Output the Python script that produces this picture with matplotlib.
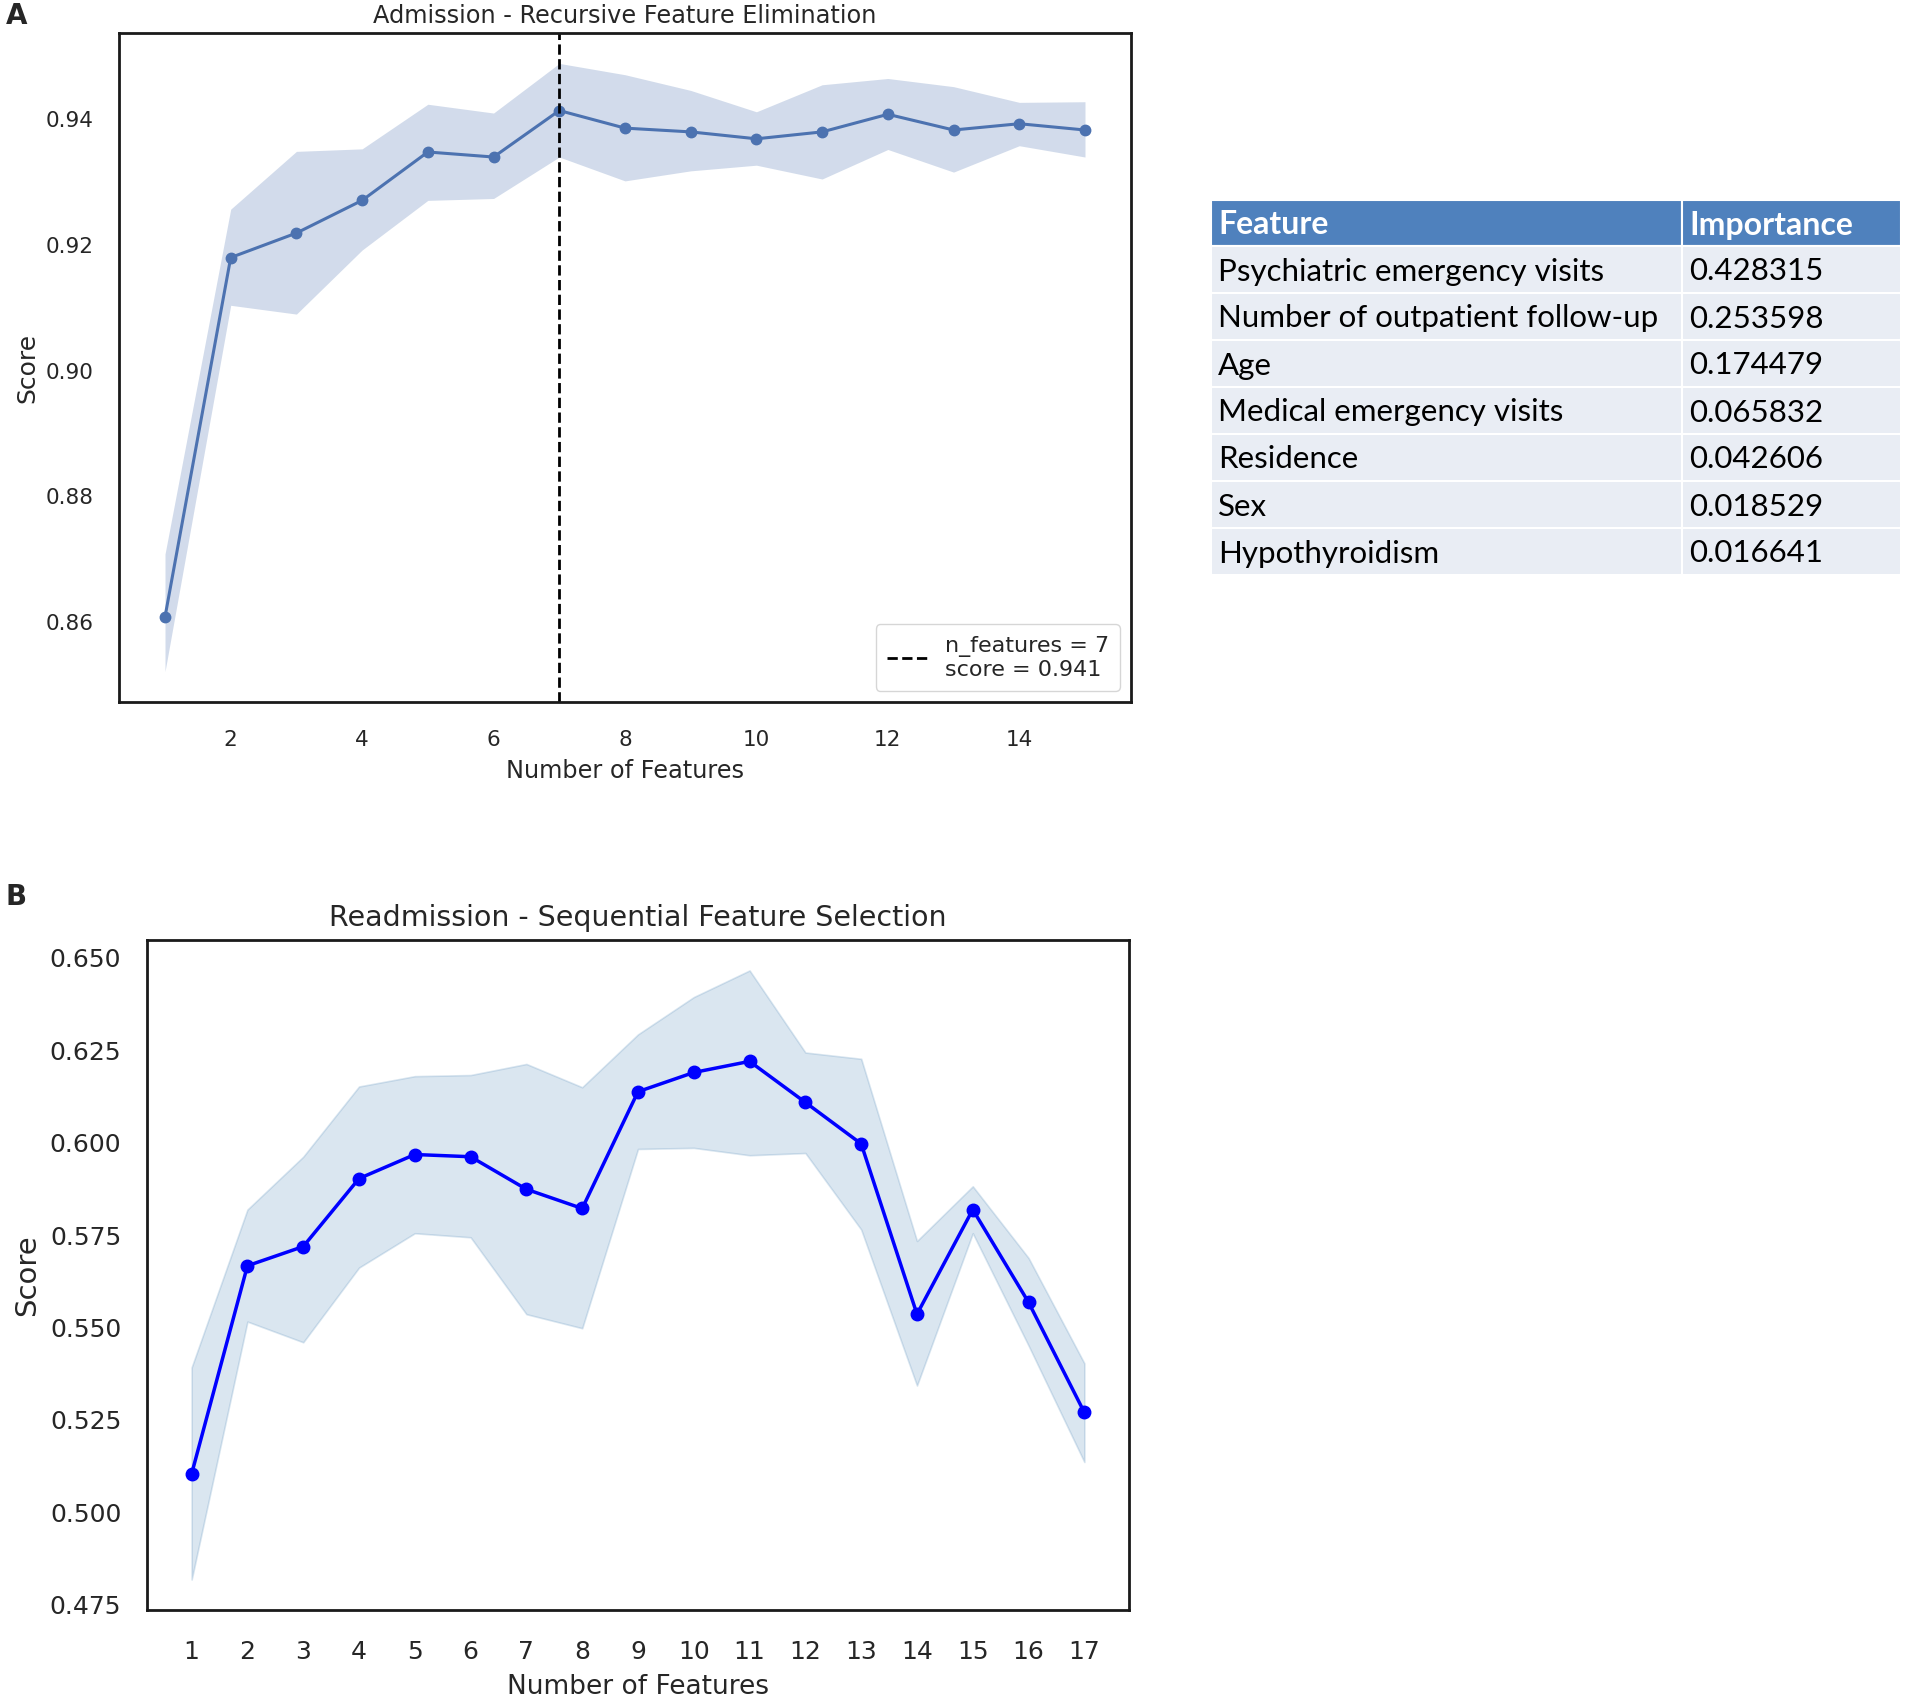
import numpy as np
import matplotlib
matplotlib.use('Agg')
import matplotlib.pyplot as plt
import seaborn as sns
from matplotlib.patches import Rectangle

# panel A - recursive feature elimination (admission)
rfe_n = [1, 2, 3, 4, 5, 6, 7, 8, 9, 10, 11, 12, 13, 14, 15]
rfe_score = [0.8608, 0.9180, 0.9219, 0.9271, 0.9348, 0.9340, 0.9414, 0.9386,
             0.9380, 0.9369, 0.9380, 0.9408, 0.9383, 0.9393, 0.9383]
rfe_upper = [0.8708, 0.9257, 0.9349, 0.9353, 0.9424, 0.9410, 0.9489, 0.9471,
             0.9446, 0.9412, 0.9455, 0.9465, 0.9452, 0.9427, 0.9428]
rfe_lower = [0.8521, 0.9104, 0.9090, 0.9192, 0.9271, 0.9274, 0.9340, 0.9302,
             0.9318, 0.9327, 0.9305, 0.9352, 0.9316, 0.9358, 0.9340]
best_n = 7
best_score = 0.941

# panel B - sequential feature selection (readmission)
sfs_n = list(range(1, 18))
sfs_score = [0.5104, 0.5667, 0.5719, 0.5903, 0.5968, 0.5962, 0.5874, 0.5822, 0.6138,
             0.6190, 0.6220, 0.6109, 0.5997, 0.5536, 0.5819, 0.5568, 0.5270]
sfs_upper = [0.5392, 0.5819, 0.5962, 0.6152, 0.6180, 0.6183, 0.6213, 0.6150, 0.6293,
             0.6394, 0.6466, 0.6244, 0.6227, 0.5734, 0.5882, 0.5688, 0.5403]
sfs_lower = [0.4818, 0.5516, 0.5460, 0.5662, 0.5755, 0.5744, 0.5536, 0.5498, 0.5983,
             0.5986, 0.5966, 0.5972, 0.5765, 0.5343, 0.5755, 0.5451, 0.5136]

# importance table
features = ['Psychiatric emergency visits', 'Number of outpatient follow-up', 'Age',
            'Medical emergency visits', 'Residence', 'Sex', 'Hypothyroidism']
importance = ['0.428315', '0.253598', '0.174479', '0.065832', '0.042606', '0.018529', '0.016641']

sns.set_style('white')
plt.rcParams['font.family'] = ['DejaVu Sans']

W, H = 1905, 1697
fig = plt.figure(figsize=(W / 100, H / 100), dpi=100)


def px_axes(left, top, right, bottom):
    return fig.add_axes([left / W, 1 - bottom / H, (right - left) / W, (bottom - top) / H])


def style_spines(ax):
    for s in ax.spines.values():
        s.set_color('0.1')
        s.set_linewidth(2)


# ---- A ----
axA = px_axes(119, 33, 1131, 702)
blue = '#4C72B0'
axA.fill_between(rfe_n, rfe_lower, rfe_upper, color=blue, alpha=0.25, linewidth=0)
axA.plot(rfe_n, rfe_score, color=blue, marker='o', markersize=7.5, linewidth=2.2)
axA.axvline(best_n, color='black', linestyle='--', linewidth=2,
            label='n_features = %d\nscore = %.3f' % (best_n, best_score))
axA.set_xticks([2, 4, 6, 8, 10, 12, 14])
axA.set_yticks([0.86, 0.88, 0.90, 0.92, 0.94])
axA.tick_params(labelsize=15.5, pad=17, colors='0.15')
axA.tick_params(axis='y', pad=15)
axA.set_title('Admission - Recursive Feature Elimination', fontsize=17.3, pad=7, color='0.15')
axA.set_xlabel('Number of Features', fontsize=17.3, color='0.15', labelpad=6)
axA.set_ylabel('Score', fontsize=18, color='0.15', labelpad=4)
leg = axA.legend(loc='lower right', fontsize=16, handlelength=1.8, borderpad=0.5)
style_spines(axA)
fig.text(6 / W, 1 - 16 / H, 'A', fontsize=20, fontweight='bold', va='center')

# ---- B ----
axB = px_axes(147, 940, 1129, 1610)
axB.fill_between(sfs_n, sfs_lower, sfs_upper, color='steelblue', alpha=0.2, linewidth=1.2)
axB.plot(sfs_n, sfs_score, color='blue', marker='o', markersize=9, linewidth=2.5)
axB.set_xticks(sfs_n)
axB.set_yticks([0.475, 0.500, 0.525, 0.550, 0.575, 0.600, 0.625, 0.650])
axB.yaxis.set_major_formatter(matplotlib.ticker.FormatStrFormatter('%.3f'))
axB.tick_params(labelsize=18, pad=18, colors='0.15')
axB.tick_params(axis='y', pad=15)
axB.set_title('Readmission - Sequential Feature Selection', fontsize=20.5, pad=10, color='0.15')
axB.set_xlabel('Number of Features', fontsize=19, color='0.15', labelpad=7)
axB.set_ylabel('Score', fontsize=21, color='0.15', labelpad=6)
style_spines(axB)
fig.text(6 / W, 1 - 897 / H, 'B', fontsize=20, fontweight='bold', va='center')

# ---- table ----
tx0, tx1, tdiv = 1211, 1901, 1682
ty0, head_h, row_h = 200, 46, 47
axT = px_axes(tx0, ty0, tx1, ty0 + head_h + row_h * len(features))
axT.set_xlim(tx0, tx1)
axT.set_ylim(ty0 + head_h + row_h * len(features), ty0)
axT.axis('off')
tfont = ['Lato', 'DejaVu Sans']
for x0, x1, txt in [(tx0, tdiv, 'Feature'), (tdiv, tx1, 'Importance')]:
    axT.add_patch(Rectangle((x0, ty0), x1 - x0, head_h, facecolor='#4F81BD',
                            edgecolor='white', linewidth=1.5))
    axT.text(x0 + 7, ty0 + head_h / 2 + 2, txt, color='white', fontsize=23, fontweight='bold',
             va='center', family=tfont)
for i, (f, v) in enumerate(zip(features, importance)):
    y = ty0 + head_h + i * row_h
    for x0, x1, txt in [(tx0, tdiv, f), (tdiv, tx1, v)]:
        axT.add_patch(Rectangle((x0, y), x1 - x0, row_h, facecolor='#E9EDF4',
                                edgecolor='white', linewidth=1.5))
        axT.text(x0 + 7, y + row_h / 2 + 2, txt, color='black', fontsize=22.5,
                 va='center', family=tfont)

fig.savefig('out.png', dpi=100, facecolor='white')
